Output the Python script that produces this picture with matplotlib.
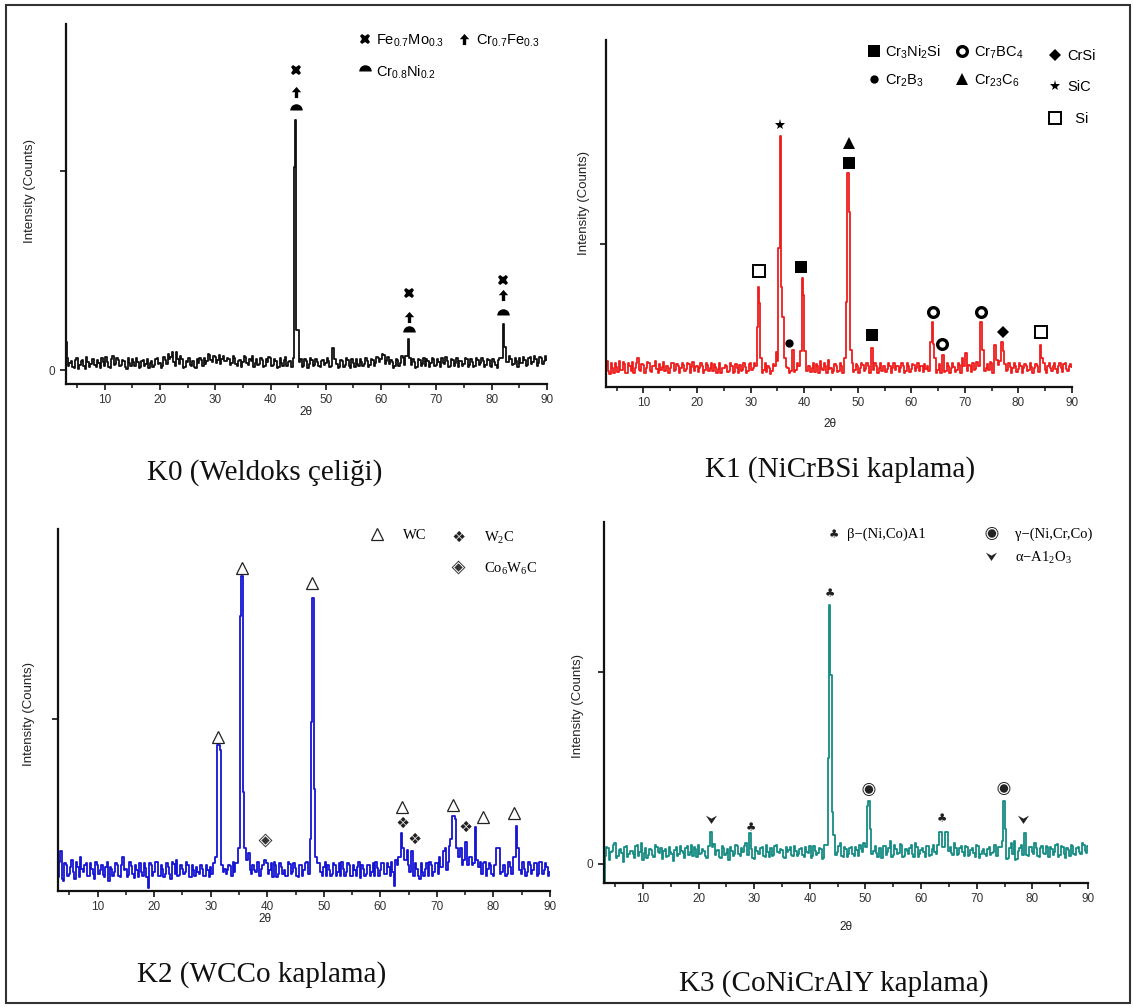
import numpy as np
import matplotlib
matplotlib.use("Agg")
import matplotlib.pyplot as plt
from matplotlib.path import Path
from matplotlib.lines import Line2D
from matplotlib.patches import Rectangle
from matplotlib.textpath import TextPath
from matplotlib.font_manager import FontProperties

plt.rcParams['font.family'] = ['Liberation Sans', 'DejaVu Sans']

# ---------------- data ----------------
two_theta_grid = np.arange(3.0, 90.01, 0.5)
two_theta_mid = np.arange(3.25, 89.76, 0.5)

k0_base = [140, 20, 45, 10, 60, 25, 50, 5, 40, 30,
           55, 15, 35, 60, 20, 40, 10, 70, 30, 50,
           25, 45, 5, 35, 55, 20, 40, 15, 50, 30,
           10, 45, 25, 60, 35, 20, 50, 80, 65, 40,
           90, 30, 55, 15, 40, 25, 45, 10, 35, 50,
           60, 45, 75, 40, 65, 50, 30, 70, 45, 55,
           35, 60, 20, 50, 40, 65, 25, 45, 15, 55,
           30, 50, 20, 40, 60, 25, 45, 15, 35, 50,
           20, 45, 60, 40, 30, 55, 20, 45, 30, 50,
           25, 40, 15, 50, 35, 45, 20, 40, 30, 15,
           45, 25, 50, 10, 35, 55, 20, 40, 30, 45,
           25, 50, 35, 60, 55, 75, 45, 30, 40, 20,
           50, 35, 60, 70, 45, 25, 40, 15, 50, 30,
           20, 45, 35, 55, 25, 40, 60, 30, 45, 20,
           50, 35, 15, 45, 30, 55, 25, 40, 20, 50,
           35, 45, 25, 50, 15, 40, 10, 60, 45, 70,
           40, 55, 30, 45, 60, 35, 50, 25, 65, 40,
           55, 35, 60, 45, 50]
k0_mid = [60, 35, 15, 50, 5, 45, 20, 65, 15, 55,
          25, 50, 10, 40, 65, 15, 55, 25, 60, 20,
          50, 15, 60, 20, 40, 60, 10, 45, 20, 55,
          35, 15, 55, 30, 10, 65, 30, 55, 90, 20,
          55, 70, 10, 45, 60, 20, 15, 55, 60, 20,
          30, 80, 50, 70, 35, 75, 55, 45, 60, 25,
          70, 30, 45, 15, 70, 35, 55, 70, 35, 25,
          60, 15, 55, 65, 20, 55, 10, 60, 20, 65,
          40, 15, 40, 55, 60, 15, 55, 10, 60, 20,
          55, 20, 45, 25, 60, 15, 50, 55, 10, 50,
          15, 60, 20, 55, 15, 30, 55, 20, 60, 15,
          55, 20, 65, 40, 80, 30, 65, 50, 10, 55,
          20, 70, 25, 45, 65, 55, 10, 55, 20, 60,
          55, 15, 60, 20, 55, 15, 35, 65, 15, 55,
          20, 60, 45, 20, 60, 15, 55, 15, 60, 25,
          60, 15, 55, 20, 55, 25, 50, 20, 70, 20,
          70, 25, 60, 15, 35, 65, 20, 60, 30, 70,
          20, 65, 30, 70]
k0_peak_x = [44.2, 44.35, 44.55, 44.8, 45.0, 45.2, 51.3, 64.8, 65.0, 65.2, 81.9, 82.1, 82.4, 82.6]
k0_peak_y = [60, 1020, 1258, 200, 200, 40, 110, 70, 156, 60, 60, 231, 115, 40]

k1_base = [150, 110, 170, 95, 140, 180, 120, 160, 100, 145,
           175, 130, 200, 115, 155, 135, 170, 105, 150, 125,
           160, 140, 115, 150, 130, 165, 120, 145, 135, 155,
           125, 160, 140, 110, 150, 130, 145, 120, 155, 135,
           110, 140, 125, 95, 130, 150, 115, 145, 105, 135,
           155, 120, 140, 110, 165, 135, 150, 130, 140, 120,
           105, 130, 115, 150, 135, 120, 100, 110, 130, 115,
           140, 120, 150, 145, 125, 110, 150, 130, 105, 145,
           185, 120, 150, 190, 130, 115, 145, 110, 150, 125,
           150, 140, 165, 120, 150, 135, 155, 125, 145, 140,
           120, 150, 130, 110, 145, 125, 150, 135, 120, 145,
           130, 150, 115, 145, 125, 155, 135, 110, 150, 160,
           145, 170, 150, 130, 120, 95, 140, 115, 150, 130,
           140, 120, 155, 200, 130, 110, 145, 170, 125, 150,
           140, 175, 130, 120, 165, 150, 190, 180, 175, 160,
           120, 140, 130, 150, 125, 145, 135, 150, 120, 140,
           130, 145, 165, 140, 120, 150, 135, 145, 125, 150,
           130, 160, 125, 145, 140]
k1_mid = [180, 90, 130, 165, 105, 120, 175, 95, 170, 115,
          100, 165, 120, 160, 95, 175, 110, 150, 180, 95,
          120, 175, 150, 100, 170, 110, 160, 100, 170, 115,
          165, 100, 175, 140, 105, 170, 100, 165, 110, 170,
          160, 100, 165, 130, 155, 105, 170, 100, 160, 95,
          110, 170, 95, 160, 120, 170, 110, 155, 100, 165,
          150, 90, 160, 110, 100, 160, 150, 140, 95, 160,
          105, 165, 100, 120, 170, 150, 105, 170, 160, 100,
          130, 165, 100, 125, 100, 160, 105, 170, 95, 165,
          110, 175, 105, 160, 100, 170, 110, 165, 100, 170,
          165, 100, 170, 150, 105, 170, 100, 165, 150, 105,
          165, 100, 170, 105, 160, 110, 170, 150, 105, 125,
          110, 130, 175, 100, 160, 180, 105, 170, 100, 165,
          105, 165, 100, 150, 170, 155, 105, 120, 175, 100,
          180, 110, 160, 175, 100, 130, 155, 120, 135, 110,
          170, 100, 165, 105, 170, 100, 160, 110, 165, 100,
          160, 105, 110, 170, 100, 165, 110, 170, 100, 165,
          105, 170, 110, 160]
k1_peak_x = [31.3, 31.5, 31.7, 31.9, 34.8, 35.05, 35.3, 35.55, 35.8, 36.05, 36.3,
             37.9, 39.4, 39.6, 39.9, 40.2, 47.7, 47.9, 48.15, 48.45, 48.7,
             52.6, 63.7, 63.9, 64.2, 64.4, 65.8, 70.2, 73.0, 73.3, 75.6, 76.9, 77.2, 84.2, 84.4]
k1_peak_y = [420, 700, 588, 200, 245, 180, 973, 1757, 700, 490, 200,
             259, 250, 763, 644, 250, 200, 595, 1498, 1225, 260,
             273, 315, 455, 300, 200, 224, 238, 455, 260, 294, 315, 250, 294, 200]

k2_base = [80, 230, 60, 150, 100, 180, 70, 140, 200, 110,
           160, 90, 130, 70, 150, 120, 95, 140, 60, 130,
           110, 150, 80, 200, 130, 95, 145, 75, 120, 160,
           90, 135, 20, 150, 110, 170, 85, 130, 100, 140,
           70, 155, 180, 95, 130, 110, 150, 80, 120, 140,
           100, 130, 85, 120, 140, 160, 130, 100, 150, 130,
           120, 145, 170, 160, 200, 230, 250, 180, 120, 150,
           110, 170, 130, 95, 160, 120, 80, 150, 100, 140,
           120, 90, 155, 110, 135, 80, 150, 120, 170, 210,
           200, 150, 160, 110, 140, 90, 125, 100, 150, 110,
           85, 130, 110, 150, 90, 120, 140, 75, 130, 100,
           150, 110, 90, 135, 120, 160, 100, 140, 170, 30,
           150, 200, 330, 180, 150, 230, 90, 130, 70, 110,
           130, 90, 150, 110, 160, 200, 140, 250, 170, 300,
           420, 430, 200, 150, 280, 150, 200, 160, 120, 140,
           100, 170, 130, 150, 90, 250, 120, 110, 150, 100,
           140, 200, 380, 160, 100, 130, 110, 150, 120, 160,
           100, 170, 120, 140, 110]
k2_mid = [170, 70, 160, 90, 140, 110, 170, 80, 130, 150,
          90, 160, 100, 170, 100, 150, 80, 170, 140, 90,
          160, 90, 150, 120, 80, 170, 100, 150, 80, 110,
          160, 80, 160, 90, 170, 90, 150, 80, 160, 100,
          170, 100, 90, 150, 100, 170, 80, 150, 90, 110,
          150, 90, 150, 80, 100, 110, 180, 90, 110, 100,
          150, 90, 110, 160, 130, 110, 160, 220, 100, 120,
          170, 90, 150, 170, 100, 160, 170, 80, 160, 100,
          90, 170, 100, 160, 90, 150, 90, 160, 100, 130,
          110, 90, 160, 90, 170, 150, 90, 160, 90, 160,
          170, 90, 160, 90, 150, 90, 170, 150, 90, 150,
          90, 160, 170, 90, 160, 100, 160, 90, 110, 180,
          200, 240, 160, 240, 110, 150, 160, 90, 160, 90,
          160, 170, 90, 160, 100, 140, 230, 120, 260, 330,
          230, 330, 250, 180, 220, 200, 150, 180, 90, 170,
          160, 90, 160, 100, 150, 140, 100, 150, 90, 170,
          100, 200, 230, 120, 170, 90, 170, 100, 160, 90,
          170, 100, 160, 90]
k2_peak_x = [30.9, 31.2, 31.45, 31.7, 31.95, 35.0, 35.25, 35.5, 35.75, 36.0,
             39.6, 47.7, 47.9, 48.1, 48.35, 48.6, 63.8, 64.0, 65.6,
             72.8, 73.05, 73.3, 73.55, 75.1, 76.9, 77.1, 80.9, 84.1, 84.35]
k2_peak_y = [200, 849, 849, 820, 150, 250, 1599, 1831, 576, 250,
             180, 300, 983, 1703, 593, 200, 337, 250, 233,
             436, 436, 420, 250, 285, 372, 180, 250, 378, 250]

k3_base = [-100, 90, 20, 70, 110, 40, 80, 10, 95, 50,
           70, 30, 100, 60, 20, 85, 45, 75, 35, 90,
           55, 25, 80, 40, 65, 15, 90, 50, 70, 30,
           95, 60, 40, 80, 100, 55, 70, 30, 60, 90,
           45, 75, 30, 85, 55, 20, 70, 50, 95, 40,
           65, 110, 45, 80, 25, 70, 50, 90, 35, 60,
           85, 45, 100, 55, 75, 30, 60, 90, 40, 70,
           50, 85, 35, 65, 95, 40, 70, 55, 80, 30,
           60, 150, 300, 120, 60, 110, 35, 80, 50, 90,
           40, 75, 100, 60, 90, 45, 140, 70, 55, 85,
           30, 95, 60, 120, 45, 80, 55, 100, 40, 70,
           85, 50, 110, 35, 75, 60, 95, 40, 80, 65,
           100, 150, 90, 160, 70, 55, 110, 45, 85, 60,
           95, 40, 75, 55, 100, 30, 70, 50, 80, 45,
           65, 40, 90, 130, 60, 25, 85, 50, 20, 70,
           100, 161, 45, 90, 60, 110, 40, 85, 55, 95,
           35, 80, 60, 105, 45, 90, 30, 75, 100, 50,
           85, 60, 110, 70, 95]
k3_mid = [40, 85, 60, 100, 30, 75, 55, 90, 35, 70,
          50, 95, 40, 110, 55, 30, 80, 45, 100, 60,
          85, 70, 35, 90, 50, 75, 40, 95, 55, 85,
          45, 100, 90, 35, 50, 80, 40, 95, 30, 105,
          70, 35, 95, 45, 80, 90, 40, 100, 50, 85,
          95, 45, 75, 30, 90, 50, 85, 40, 100, 35,
          40, 95, 60, 80, 35, 90, 75, 45, 95, 40,
          80, 45, 90, 55, 30, 95, 45, 85, 25, 100,
          45, 60, 80, 45, 95, 40, 90, 35, 85, 50,
          90, 40, 80, 110, 45, 90, 50, 95, 35, 85,
          95, 45, 85, 35, 100, 50, 105, 35, 80, 50,
          100, 35, 90, 50, 85, 35, 95, 45, 100, 50,
          110, 55, 140, 60, 90, 45, 85, 50, 95, 40,
          90, 45, 85, 35, 95, 50, 80, 40, 90, 55,
          100, 40, 90, 55, 80, 30, 110, 120, 25, 85,
          45, 95, 40, 90, 50, 85, 35, 95, 50, 90,
          90, 45, 100, 35, 95, 50, 85, 40, 95, 45,
          90, 50, 100, 55]
k3_peak_x = [22.2, 29.2, 43.2, 43.35, 43.55, 43.8, 44.0, 44.25,
             50.4, 50.6, 50.9, 63.5, 64.5, 74.7, 74.9, 75.1, 78.6]
k3_peak_y = [167, 161, 100, 552, 1349, 984, 271, 150,
             300, 328, 180, 167, 167, 120, 328, 180, 161]

# phase tags above peaks: (2theta, height, phase index)
k0_phases = [r'Fe$_\mathregular{0.7}$Mo$_\mathregular{0.3}$',
             r'Cr$_\mathregular{0.8}$Ni$_\mathregular{0.2}$',
             r'Cr$_\mathregular{0.7}$Fe$_\mathregular{0.3}$']
k0_tag_x = [44.6, 44.6, 44.6, 65.0, 65.0, 65.0, 82.1, 82.1, 82.1]
k0_tag_y = [1509, 1308, 1398, 387, 191, 267, 453, 277, 377]
k0_tag_p = [0, 1, 2, 0, 1, 2, 0, 1, 2]

k1_phases = [r'Cr$_\mathregular{3}$Ni$_\mathregular{2}$Si',
             r'Cr$_\mathregular{2}$B$_\mathregular{3}$',
             r'Cr$_\mathregular{7}$BC$_\mathregular{4}$',
             r'Cr$_\mathregular{23}$C$_\mathregular{6}$',
             'CrSi', 'SiC', '  Si']
k1_tag_x = [39.4, 48.3, 52.7, 37.2, 64.0, 73.0, 65.8, 48.3, 77.2, 35.5, 31.5, 84.2]
k1_tag_y = [840, 1568, 364, 308, 525, 525, 301, 1708, 385, 1834, 812, 385]
k1_tag_p = [0, 0, 0, 1, 2, 2, 2, 3, 4, 5, 6, 6]

k2_phases = ['WC', r'W$_\mathregular{2}$C', r'Co$_\mathregular{6}$W$_\mathregular{6}$C']
k2_tag_x = [31.3, 35.5, 48.0, 63.9, 72.9, 78.2, 83.6, 63.9, 65.9, 75.0, 39.6]
k2_tag_y = [895, 1878, 1791, 488, 500, 430, 453, 401, 308, 378, 297]
k2_tag_p = [0, 0, 0, 0, 0, 0, 0, 1, 1, 1, 2]

k3_phases = [r'β−(Ni,Co)A1', r'γ−(Ni,Cr,Co)', r'α−A1$_\mathregular{2}$O$_\mathregular{3}$']
k3_tag_x = [29.2, 43.5, 63.6, 50.5, 74.8, 22.2, 78.3]
k3_tag_y = [198, 1417, 245, 391, 396, 234, 234]
k3_tag_p = [0, 0, 0, 1, 1, 2, 2]

captions = ['K0 (Weldoks çeliği)', 'K1 (NiCrBSi kaplama)',
            'K2 (WCCo kaplama)', 'K3 (CoNiCrAlY kaplama)']
x_ticks = [10, 20, 30, 40, 50, 60, 70, 80, 90]


# ---------------- helpers ----------------
def glyph(ch):
    tp = TextPath((0, 0), ch, size=10, prop=FontProperties(family='DejaVu Sans'))
    v = tp.vertices.copy()
    mn, mx = v.min(0), v.max(0)
    v[:, 0] -= (mn[0] + mx[0]) / 2
    v[:, 1] -= (mn[1] + mx[1]) / 2
    return Path(v, tp.codes)


arrow_up = Path([(0, 1), (-0.85, 0.05), (-0.3, 0.05), (-0.3, -1), (0.3, -1), (0.3, 0.05),
                 (0.85, 0.05), (0, 1)],
                [Path.MOVETO] + [Path.LINETO] * 6 + [Path.CLOSEPOLY])
half_disc = Path.wedge(0, 180)
chevron = Path([(-1, 0.7), (0, 0.15), (1, 0.7), (0, -0.8), (-1, 0.7)],
               [Path.MOVETO, Path.LINETO, Path.LINETO, Path.LINETO, Path.CLOSEPOLY])

K = 'black'
k0_styles = [dict(marker='X', ms=7.5, mfc=K, mec=K, mew=0),
             dict(marker=half_disc, ms=9, mfc=K, mec=K, mew=0),
             dict(marker=arrow_up, ms=8, mfc=K, mec=K, mew=0)]
k1_styles = [dict(marker='s', ms=8.5, mfc=K, mec=K, mew=0),
             dict(marker='o', ms=6, mfc=K, mec=K, mew=0),
             dict(marker='o', ms=7, mfc='white', mec=K, mew=2.4),
             dict(marker='^', ms=8.5, mfc=K, mec=K, mew=0),
             dict(marker='D', ms=6.5, mfc=K, mec=K, mew=0),
             dict(marker='*', ms=8, mfc=K, mec=K, mew=0),
             dict(marker='s', ms=8.5, mfc='white', mec=K, mew=1.4)]
k2_styles = [dict(marker='^', ms=9, mfc='white', mec='#222222', mew=0.9),
             dict(marker=glyph('❖'), ms=9, mfc='#222222', mec='#222222', mew=0),
             dict(marker=glyph('◈'), ms=10, mfc='#333333', mec='#333333', mew=0)]
k3_styles = [dict(marker=glyph('♣'), ms=6.5, mfc='#222222', mec='#222222', mew=0),
             dict(marker=glyph('◉'), ms=10, mfc='#222222', mec='#222222', mew=0),
             dict(marker=chevron, ms=8, mfc='#222222', mec='#222222', mew=0)]


def build(base, mid, px, py):
    xs, ys = [], []
    for grid, vals in ((two_theta_grid, base), (two_theta_mid, mid)):
        for x, y in zip(grid, vals):
            if all(abs(x - p) > 0.26 for p in px):
                xs.append(x)
                ys.append(y)
    xs += list(px)
    ys += list(py)
    order = np.argsort(xs)
    return np.array(xs)[order], np.array(ys)[order]


W, H = 1134, 1008
fig = plt.figure(figsize=(W / 100, H / 100), dpi=100)


def make_axes(l, t, r, b):
    return fig.add_axes([l / W, 1 - b / H, (r - l) / W, (b - t) / H])


panels = [
    dict(box=(66, 24, 547, 384), base=k0_base, mid=k0_mid, px=k0_peak_x, py=k0_peak_y,
         color='#111111', ylim=(-70, 1740), yt=[0, 1000], ytl=['0', ''],
         tx=k0_tag_x, ty=k0_tag_y, tp=k0_tag_p,
         styles=k0_styles, ylab=(-0.062, 0.535), xlab=(0.5, -0.062)),
    dict(box=(606, 40, 1072, 387), base=k1_base, mid=k1_mid, px=k1_peak_x, py=k1_peak_y,
         color='#ee1c1c', ylim=(0, 2429), yt=[1000], ytl=[''],
         tx=k1_tag_x, ty=k1_tag_y, tp=k1_tag_p,
         styles=k1_styles, ylab=(-0.034, 0.53), xlab=(0.48, -0.09)),
    dict(box=(58, 529, 550, 891), base=k2_base, mid=k2_mid, px=k2_peak_x, py=k2_peak_y,
         color='#1414d2', ylim=(0, 2105), yt=[1000], ytl=[''],
         tx=k2_tag_x, ty=k2_tag_y, tp=k2_tag_p,
         styles=k2_styles, ylab=(-0.046, 0.49), xlab=(0.42, -0.062)),
    dict(box=(604, 522, 1088, 883), base=k3_base, mid=k3_mid, px=k3_peak_x, py=k3_peak_y,
         color='#168c84', ylim=(-99, 1781), yt=[0, 1000], ytl=['0', ''],
         tx=k3_tag_x, ty=k3_tag_y, tp=k3_tag_p,
         styles=k3_styles, ylab=(-0.042, 0.49), xlab=(0.5, -0.105)),
]

axes = []
for pnl in panels:
    ax = make_axes(*pnl['box'])
    axes.append(ax)
    x, y = build(pnl['base'], pnl['mid'], pnl['px'], pnl['py'])
    ax.plot(x, y, color=pnl['color'], lw=1.3, drawstyle='steps-mid')
    tx = np.array(pnl['tx']); ty = np.array(pnl['ty']); tp = np.array(pnl['tp'])
    for i, st in enumerate(pnl['styles']):
        m = tp == i
        ax.plot(tx[m], ty[m], ls='none', clip_on=False, **st)
    ax.set_xlim(3, 90)
    ax.set_ylim(*pnl['ylim'])
    ax.set_xticks(x_ticks)
    ax.set_xticklabels([str(v) for v in x_ticks])
    ax.set_xticks([5, 15, 25, 35, 45, 55, 65, 75, 85], minor=True)
    ax.set_yticks(pnl['yt'])
    ax.set_yticklabels(pnl['ytl'])
    for s in ['top', 'right']:
        ax.spines[s].set_visible(False)
    for s in ['left', 'bottom']:
        ax.spines[s].set_linewidth(1.6)
        ax.spines[s].set_color('#111111')
    ax.tick_params(which='major', direction='out', length=4.5, width=1.2, labelsize=8.5,
                   pad=3, colors='#111111', labelcolor='#333333')
    ax.tick_params(which='minor', direction='out', length=3, width=1.1, colors='#111111')
    ax.set_ylabel('Intensity (Counts)', fontsize=9.5, color='#222222')
    ax.yaxis.set_label_coords(*pnl['ylab'])
    ax.set_xlabel('2θ', fontsize=8.5, color='#222222')
    ax.xaxis.set_label_coords(*pnl['xlab'])


def handles(styles, labels, idx):
    return [Line2D([], [], ls='none', **styles[i]) for i in idx], [labels[i] for i in idx]


sans = dict(family='Liberation Sans', size=10.5)
serif = dict(family='Liberation Serif', size=10.5)

# K0 legend
h, l = handles(k0_styles, k0_phases, [0, 1, 2])
axes[0].legend(h, l, ncol=2, loc='upper left', bbox_to_anchor=(0.607, 0.978), frameon=False,
               prop=sans, handlelength=0.9, handletextpad=0.35, columnspacing=0.9,
               labelspacing=1.0, borderpad=0, borderaxespad=0)

# K1 legends
h, l = handles(k1_styles, k1_phases, [0, 1, 2, 3])
lg = axes[1].legend(h, l, ncol=2, loc='upper left', bbox_to_anchor=(0.56, 0.99), frameon=False,
                    prop=sans, handlelength=0.9, handletextpad=0.35, columnspacing=1.0,
                    labelspacing=0.75, borderpad=0, borderaxespad=0)
axes[1].add_artist(lg)
h, l = handles(k1_styles, k1_phases, [4, 5, 6])
axes[1].legend(h, l, loc='upper left', bbox_to_anchor=(0.95, 0.975), frameon=False,
               prop=sans, handlelength=0.9, handletextpad=0.35, labelspacing=1.2,
               borderpad=0, borderaxespad=0)

# K2 legends
h, l = handles(k2_styles, k2_phases, [0])
lg = axes[2].legend(h, l, loc='upper left', bbox_to_anchor=(0.635, 1.0), frameon=False,
                    prop=serif, handlelength=0.9, handletextpad=1.3,
                    borderpad=0, borderaxespad=0)
axes[2].add_artist(lg)
h, l = handles(k2_styles, k2_phases, [1, 2])
axes[2].legend(h, l, loc='upper left', bbox_to_anchor=(0.8, 1.0), frameon=False,
               prop=serif, handlelength=0.9, handletextpad=1.3, labelspacing=1.0,
               borderpad=0, borderaxespad=0)

# K3 legends
h, l = handles(k3_styles, k3_phases, [0])
lg = axes[3].legend(h, l, loc='upper left', bbox_to_anchor=(0.46, 0.985), frameon=False,
                    prop=serif, handlelength=0.9, handletextpad=0.5,
                    borderpad=0, borderaxespad=0)
axes[3].add_artist(lg)
h, l = handles(k3_styles, k3_phases, [1, 2])
axes[3].legend(h, l, loc='upper left', bbox_to_anchor=(0.785, 0.985), frameon=False,
               prop=serif, handlelength=0.9, handletextpad=1.2, labelspacing=0.55,
               borderpad=0, borderaxespad=0)

# captions
cap_pos = [(265, 473), (840, 470), (262, 975), (834, 984)]
for (cx, cy), txt in zip(cap_pos, captions):
    fig.text(cx / W, 1 - cy / H, txt, ha='center', va='center', fontsize=21,
             family='Liberation Serif', color='#111111')

# outer frame
fig.patches.append(Rectangle((6 / W, 5 / H), 1124 / W, 998 / H, transform=fig.transFigure,
                             fill=False, lw=1.5, ec='#333333'))

fig.savefig('out.png', dpi=100)
